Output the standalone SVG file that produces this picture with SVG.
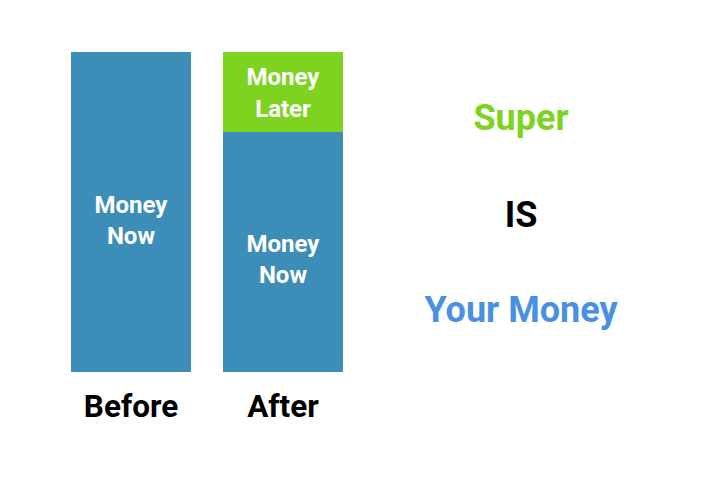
<svg xmlns="http://www.w3.org/2000/svg" width="720" height="480" viewBox="0 0 720 480">
<style>
.t{font-family:Roboto,"Liberation Sans",sans-serif;font-weight:bold;text-anchor:middle}
.w{fill:#ffffff;font-size:24px}
.lbl{fill:#000000;font-size:31.5px}
.big{font-size:36px}
</style>
<rect width="720" height="480" fill="#ffffff"/>
<g id="before">
<rect x="71" y="52" width="120" height="320" fill="#3D8DB9"/>
<text class="t w" x="131" y="213">Money</text>
<text class="t w" x="131" y="244">Now</text>
<text class="t lbl" x="131" y="417">Before</text>
</g>
<g id="after">
<rect x="223" y="52" width="120" height="80" fill="#7ED321"/>
<rect x="223" y="132" width="120" height="240" fill="#3D8DB9"/>
<text class="t w" x="283" y="85">Money</text>
<text class="t w" x="283" y="117">Later</text>
<text class="t w" x="283" y="252">Money</text>
<text class="t w" x="283" y="283">Now</text>
<text class="t lbl" x="283" y="417">After</text>
</g>
<g id="slogan">
<text class="t big" x="521" y="130" fill="#7ED321">Super</text>
<text class="t big" x="521" y="227" fill="#000000">IS</text>
<text class="t big" x="521" y="322" fill="#4A90E2">Your Money</text>
</g>
</svg>
